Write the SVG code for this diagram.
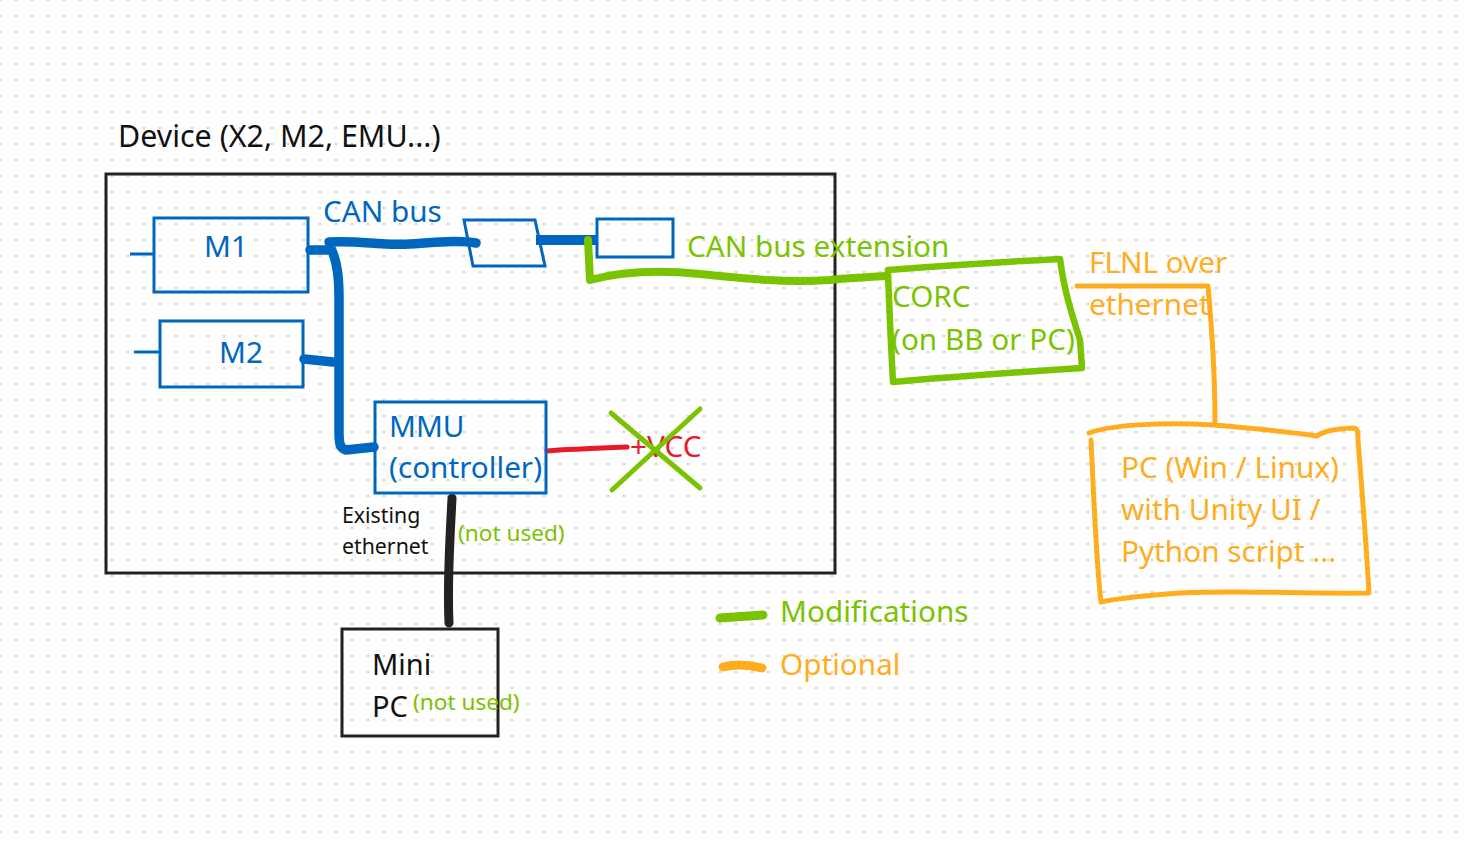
<svg xmlns="http://www.w3.org/2000/svg" width="1471" height="843" viewBox="0 0 1471 843">
<defs>
<pattern id="dots" x="15" y="15" width="16" height="16" patternUnits="userSpaceOnUse">
<rect x="0" y="0" width="2" height="2" fill="#cccccc"/>
</pattern>
<style>
.t{font-family:"Noto Sans","Open Sans","Liberation Sans",sans-serif;font-size:29.7px}
.s{font-size:21.3px}
.n{font-size:22.6px}
.blue{fill:#0067c0}
.green{fill:#7ac300}
.orange{fill:#ffad1f}
.blk{fill:#111}
.red{fill:#e81a2a}
.box{fill:none;stroke:#0067c0;stroke-width:3}
.bus{fill:none;stroke:#0067c0;stroke-width:9.5;stroke-linecap:round;stroke-linejoin:round}
.gl{fill:none;stroke:#7ac300;stroke-width:6.5;stroke-linecap:round;stroke-linejoin:round}
.ol{fill:none;stroke:#ffad1f;stroke-width:5;stroke-linecap:round;stroke-linejoin:round}
</style>
</defs>
<rect width="1471" height="843" fill="#ffffff"/>
<rect width="1471" height="843" fill="url(#dots)"/>

<g id="device">
<text class="t blk" x="118" y="147" style="font-size:30.4px">Device (X2, M2, EMU...)</text>
<rect x="106" y="174" width="729" height="399" fill="none" stroke="#222" stroke-width="3"/>
</g>

<g id="connectors">
<path class="bus" d="M310,250 L330,250 M329,242 C360,240 380,246 410,244 C440,242 460,240 476,243 M330,246 C338,262 339,280 339,300 L339,430 C339,445 340,448 346,450 L374,447 M304,359 L333,362"/>
<path d="M536,240 L597,240" stroke="#0067c0" stroke-width="10" fill="none"/>
<path d="M130,254 L154,254 M134,352 L160,352" stroke="#0067c0" stroke-width="3" fill="none"/>
<path class="gl" d="M588,240 L590,280 C620,272 660,270 700,274 C740,278 780,283 830,280 C850,278 870,277 886,276" style="stroke-width:8"/>
<path d="M547,451 C570,449 600,448 627,447" stroke="#e81a2a" stroke-width="5" fill="none" stroke-linecap="round"/>
<path d="M452,498 C450,540 447,580 449,623" stroke="#222" stroke-width="9" fill="none" stroke-linecap="round"/>
<path class="ol" d="M1077,286 L1208,286 C1212,330 1215,380 1215,422"/>
</g>

<g id="m1">
<rect class="box" x="154" y="218" width="154" height="74"/>
<text class="t blue" x="226" y="257" text-anchor="middle">M1</text>
</g>
<g id="m2">
<rect class="box" x="160" y="321" width="143" height="66"/>
<text class="t blue" x="241" y="363" text-anchor="middle">M2</text>
</g>
<g id="canbus-label">
<text class="t blue" x="323" y="222">CAN bus</text>
</g>
<g id="connector1">
<polygon class="box" points="464,220 535,220 545,266 473,266"/>
</g>
<g id="connector2">
<rect class="box" x="597" y="219" width="76" height="38"/>
</g>
<g id="canext-label">
<text class="t green" x="687" y="257">CAN bus extension</text>
</g>
<g id="mmu">
<rect class="box" x="375" y="402" width="171" height="91"/>
<text class="t blue" x="389" y="437">MMU</text>
<text class="t blue" x="389" y="478">(controller)</text>
</g>
<g id="vcc">
<text class="t red" x="630" y="457">+VCC</text>
<path class="gl" d="M611,413 L700,488 M700,409 L612,490" style="stroke-width:5"/>
</g>
<g id="eth-label">
<text class="t s blk" x="342" y="523">Existing</text>
<text class="t s blk" x="342" y="554">ethernet</text>
<text class="t n green" x="458" y="541">(not used)</text>
</g>
<g id="minipc">
<rect x="342" y="629" width="156" height="107" fill="none" stroke="#222" stroke-width="3"/>
<text class="t blk" x="372" y="675" style="font-size:29px">Mini</text>
<text class="t blk" x="372" y="717" style="font-size:29px">PC</text>
<text class="t n green" x="413" y="710">(not used)</text>
</g>
<g id="corc">
<path class="gl" d="M888,270 C940,266 1000,262 1060,259 C1064,290 1072,315 1080,340 L1082,368 C1020,372 950,377 893,382 C891,345 889,305 888,270 Z"/>
<text class="t green" x="892" y="307">CORC</text>
<text class="t green" x="892" y="350">(on BB or PC)</text>
</g>
<g id="flnl-label">
<text class="t orange" x="1089" y="273">FLNL over</text>
<text class="t orange" x="1089" y="315">ethernet</text>
</g>
<g id="pc">
<path class="ol" d="M1089,433 C1110,425 1160,422 1213,425 C1250,428 1290,432 1317,436 C1322,432 1330,429 1353,428 C1358,428 1358,432 1358,440 C1362,490 1366,540 1369,593 C1300,594 1240,590 1180,593 C1150,595 1120,598 1101,602 C1096,560 1094,500 1091,440"/>
<text class="t orange" x="1121" y="478">PC (Win / Linux)</text>
<text class="t orange" x="1121" y="520">with Unity UI /</text>
<text class="t orange" x="1121" y="562">Python script ...</text>
</g>
<g id="legend">
<path d="M720,618 L763,615" stroke="#7ac300" stroke-width="9" fill="none" stroke-linecap="round"/>
<text class="t green" x="780" y="622">Modifications</text>
<path d="M723,667 C735,664 750,665 762,668" stroke="#ffad1f" stroke-width="9" fill="none" stroke-linecap="round"/>
<text class="t orange" x="780" y="675">Optional</text>
</g>
</svg>
